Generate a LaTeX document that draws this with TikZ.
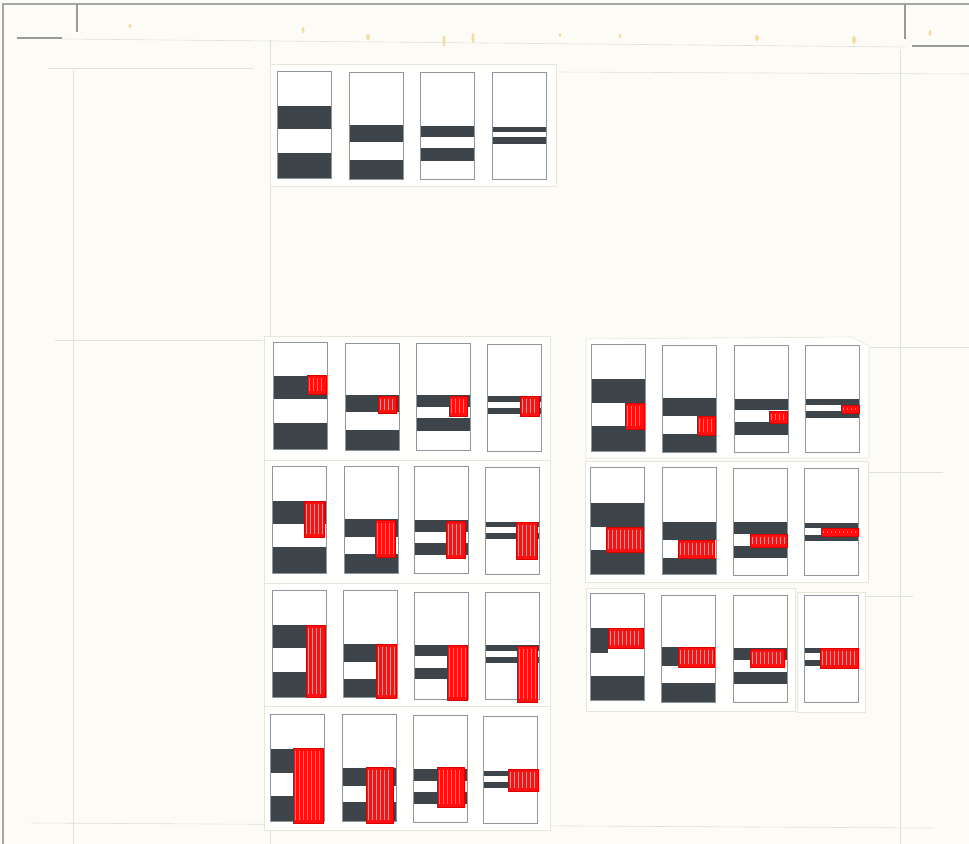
\documentclass[tikz,border=0pt]{standalone}
\usepackage{tikz}

\definecolor{paper}{HTML}{FCFBF5}
\definecolor{backpaper}{HTML}{FFFFFE}
\definecolor{backedge}{HTML}{E8E6DB}
\definecolor{inkgray}{HTML}{3E454A}
\definecolor{framegray}{HTML}{8E969C}
\definecolor{guidegray}{HTML}{E0E0DA}
\definecolor{markred}{HTML}{FF1010}
\definecolor{stain}{HTML}{EDCB6A}

\tikzset{
  backing/.style={fill=backpaper,draw=backedge,line width=0.5pt},
  cardframe/.style={draw=framegray,line width=0.6pt},
  bar/.style={fill=inkgray},
  guide/.style={draw=guidegray,line width=0.5pt},
  crop/.style={draw=gray!80,line width=0.9pt},
  streak/.style={draw=red!30!white,line width=0.3pt,opacity=0.7},
  markedge/.style={draw=red!85!black,line width=0.7pt,line join=round}
}

\begin{document}
\begin{tikzpicture}[x=0.03cm,y=-0.03cm]
\fill[paper] (0,0) rectangle (969,844);
\useasboundingbox (0,0) rectangle (969,844);
% scan frame
\draw[gray!70,line width=1pt] (3,844) -- (3,4) -- (969,4);
% ruled guides
\draw[guide] (62,39) -- (905,47);
\draw[guide] (48,68) -- (253,68);
\draw[guide] (559,72) -- (969,74);
\draw[guide] (55,340) -- (263,340);
\draw[guide] (31,823) -- (933,828);
\draw[guide] (73,70) -- (73,844);
\draw[guide] (270,40) -- (270,844);
\draw[guide] (900,50) -- (900,844);
\draw[guide] (862,347) -- (969,347);
\draw[guide] (862,472) -- (943,472);
\draw[guide] (860,596) -- (913,596);
\draw[crop] (17,38) -- (62,38);
\draw[crop] (77,4) -- (77,32);
\draw[crop] (905,4) -- (905,39);
\draw[crop] (912,46) -- (969,46);
% stains
\foreach \sx/\sy/\sw/\sh in {130/26/1.5/2,303/30/1.5/3,368/37/2/3,444/41/1.5/6,473/38/1.5/5,
  560/35/1/2,620/36/1.5/2,757/38/2/3,854/40/2/4,930/33/1.5/3}
  \fill[stain,opacity=0.6] (\sx,\sy) ellipse ({\sw} and {\sh});

% mounting sheets
\draw[backing] (270,64) rectangle (556,186);
\draw[backing] (264,336) rectangle (550,830);
\draw[backedge,line width=0.5pt] (264,460) -- (550,460) (264,583) -- (550,583) (264,706) -- (550,706);
\draw[backing] (586,339) -- (852,337) -- (869,346) -- (869,458) -- (586,458) -- cycle;
\draw[backing] (585,461) rectangle (868,582);
\draw[backing] (586,588) rectangle (795,711);
\draw[backing] (797,592) rectangle (865,712);

% grating cards: x / top / bar1 top / bar1 bottom / bar2 top / bar2 bottom
\foreach \cx/\ct/\ua/\ub/\la/\lb in {
  277/71/106/129/153/178, 349/72/125/142/160/179, 420/72/126/137/148/161, 492/72/127/132/137/144,
  273/342/376/399/423/449, 345/343/395/412/430/450, 416/343/395/407/418/431, 487/344/396/402/408/414,
  272/466/501/524/547/573, 344/466/519/537/554/573, 414/466/520/532/543/555, 485/467/522/527/533/539,
  272/590/625/648/672/697, 343/590/644/662/679/697, 414/592/645/656/668/679, 485/592/645/651/657/663,
  270/714/749/773/796/821, 342/714/768/786/802/821, 413/715/769/781/792/804, 483/716/771/776/782/788,
  591/344/379/403/426/451, 662/345/398/416/434/452, 734/345/399/410/422/435, 805/345/399/405/411/418,
  590/467/503/527/550/574, 662/467/522/540/558/574, 733/468/522/534/546/558, 804/468/523/528/535/541,
  590/593/628/653/676/700, 661/595/647/666/683/702, 733/595/648/660/672/684, 804/595/648/653/660/666} {
  \fill[white] (\cx,\ct) rectangle ++(54,107);
  \fill[bar] (\cx,\ua) rectangle (\cx+54,\ub);
  \fill[bar] (\cx,\la) rectangle (\cx+54,\lb);
  \draw[cardframe] (\cx,\ct) rectangle ++(54,107);
}
% bar cut short under the marker
\fill[white] (608,648) rectangle (643.7,653);

% red marker fields: left / top / right / bottom
\foreach \rx/\ry/\qx/\qy in {
  307/375/326/394, 378/396/396/413, 449/396/467/416, 520/396/539/416,
  304/501/324/537, 375/520/395/557, 446/521/465/558, 516/522/537/559,
  306/625/325/697, 376/644/396/698, 447/645/467/700, 517/646/537/702,
  293/748/323/823, 366/767/393/823, 437/767/464/807, 508/769/538/791,
  625/403/644/429, 697/416/715/435, 769/411/787/423, 841/405/859/413,
  606/527/643/552, 678/540/714/558, 750/534/787/547, 821/528/858/536,
  608/628/643/648, 678/647/714/667, 750/649/784/667, 820/648/858/668} {
  \fill[markred] (\rx,\ry) rectangle (\qx,\qy);
  \pgfmathtruncatemacro{\nst}{(\qx-\rx)/4}
  \foreach \k in {1,...,\nst} \draw[streak] (\rx+4*\k-1.5,\ry+3) -- (\rx+4*\k-1.5,\qy-3);
  \draw[markedge] (\rx,\ry) rectangle (\qx,\qy);
}
\end{tikzpicture}
\end{document}
